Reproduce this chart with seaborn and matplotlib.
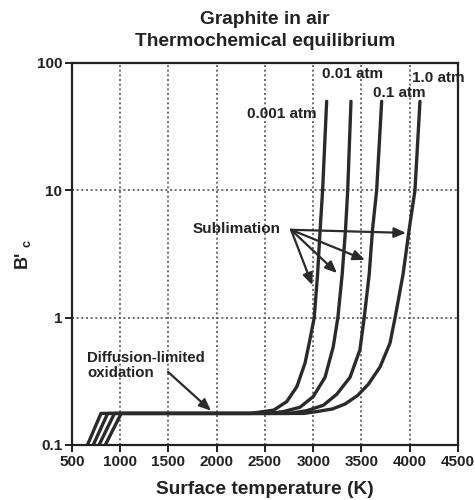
import matplotlib
matplotlib.use("Agg")
import matplotlib.pyplot as plt
import seaborn as sns
import pandas as pd
from matplotlib.ticker import FixedLocator, NullLocator, FixedFormatter

# ---- data ----
pressures = ["0.001 atm", "0.01 atm", "0.1 atm", "1.0 atm"]
temp_0001 = [660, 800, 2350, 2590, 2725, 2830, 2915, 2965, 3010, 3045, 3072, 3097, 3139]
bc_0001 = [0.1, 0.177, 0.177, 0.188, 0.219, 0.287, 0.44, 0.67, 1.0, 2.2, 5.0, 10, 50]
temp_001 = [720, 870, 2550, 2690, 2863, 3000, 3122, 3207, 3255, 3300, 3335, 3357, 3391]
bc_001 = [0.1, 0.177, 0.177, 0.183, 0.198, 0.24, 0.34, 0.59, 1.0, 2.2, 5.0, 10, 50]
temp_01 = [780, 940, 2750, 2932, 3104, 3243, 3381, 3484, 3528, 3580, 3615, 3657, 3709]
bc_01 = [0.1, 0.177, 0.177, 0.186, 0.205, 0.25, 0.34, 0.56, 1.0, 2.2, 5.0, 10, 50]
temp_10 = [845, 1010, 2900, 3036, 3200, 3330, 3460, 3571, 3692, 3795, 3848, 3931, 3995, 4054, 4106]
bc_10 = [0.1, 0.177, 0.177, 0.183, 0.192, 0.21, 0.245, 0.30, 0.41, 0.63, 1.0, 2.2, 5.0, 10, 50]

x_ticks = [500, 1000, 1500, 2000, 2500, 3000, 3500, 4000, 4500]
y_ticks = [0.1, 1, 10, 100]
y_tick_labels = ["0.1", "1", "10", "100"]

# label anchors (T, B'c)
label_pos = {"0.001 atm": (3040, 40), "0.01 atm": (3090, 82),
             "0.1 atm": (3620, 58), "1.0 atm": (4025, 76)}
label_ha = {"0.001 atm": "right", "0.01 atm": "left", "0.1 atm": "left", "1.0 atm": "left"}
subl_text_pos = (2210, 5.0)
subl_origin = (2770, 4.9)
subl_tips = [(2990, 1.8), (3246, 2.24), (3536, 2.84), (3961, 4.63)]
diff_text_pos = (655, 0.42)
diff_arrow_start = (1495, 0.375)
diff_arrow_tip = (1940, 0.186)

series = [(temp_0001, bc_0001), (temp_001, bc_001), (temp_01, bc_01), (temp_10, bc_10)]
rows = []
for p, (ts, bs) in zip(pressures, series):
    for i, (t, b) in enumerate(zip(ts, bs)):
        rows.append({"T": t, "B": b, "p": p, "order": i})
df = pd.DataFrame(rows)

sns.set_style("ticks")
plt.rcParams["font.family"] = ["Liberation Sans", "DejaVu Sans"]
plt.rcParams["font.weight"] = "bold"
plt.rcParams["mathtext.fontset"] = "custom"
plt.rcParams["mathtext.bf"] = "Liberation Sans:bold"
plt.rcParams["mathtext.rm"] = "Liberation Sans:bold"
plt.rcParams["mathtext.default"] = "bf"

ink = "#2a2a2a"
txt = "#222"
fig = plt.figure(figsize=(4.75, 5.0), dpi=100)
ax = fig.add_axes([72 / 475, 1 - 445 / 500, (458 - 72) / 475, (445 - 63) / 500])

sns.lineplot(data=df, x="T", y="B", units="p", estimator=None, sort=False,
             color=ink, lw=2.4, ax=ax, legend=False)

ax.set_yscale("log")
ax.set_xlim(500, 4500)
ax.set_ylim(0.1, 100)
ax.xaxis.set_major_locator(FixedLocator(x_ticks))
ax.yaxis.set_major_locator(FixedLocator(y_ticks))
ax.yaxis.set_major_formatter(FixedFormatter(y_tick_labels))
ax.yaxis.set_minor_locator(NullLocator())
ax.tick_params(axis="both", which="major", direction="out", length=5, width=1.4,
               labelsize=11, color=txt, labelcolor=txt, pad=2)
for lab in ax.get_xticklabels() + ax.get_yticklabels():
    lab.set_fontweight("bold")

ax.grid(True, which="major", linestyle=(0, (1.2, 1.6)), color="#555", lw=1.2)
for s in ax.spines.values():
    s.set_linewidth(1.6)
    s.set_color(txt)

ax.set_xlabel("Surface temperature (K)", fontsize=13.8, fontweight="bold", color=txt, labelpad=9)
ax.set_ylabel("B' $_{c}$", fontsize=13, fontweight="bold", color=txt, labelpad=3)

cx = 0.5 * (72 + 458) / 475
fig.text(cx, 1 - 20 / 500, "Graphite in air", ha="center", va="center",
         fontsize=13.8, fontweight="bold", color=txt)
fig.text(cx, 1 - 42 / 500, "Thermochemical equilibrium", ha="center", va="center",
         fontsize=13.8, fontweight="bold", color=txt)

for p in pressures:
    ax.text(*label_pos[p], p, ha=label_ha[p], va="center", fontsize=11, fontweight="bold", color=txt)

ax.text(*subl_text_pos, "Sublimation", ha="center", va="center", fontsize=11, fontweight="bold", color=txt)
for tip in subl_tips:
    ax.annotate("", xy=tip, xytext=subl_origin,
                arrowprops=dict(arrowstyle="-|>,head_length=0.7,head_width=0.3", color=ink, lw=1.6,
                                shrinkA=0, shrinkB=0))

ax.text(*diff_text_pos, "Diffusion-limited\noxidation", ha="left", va="center", fontsize=10.8,
        fontweight="bold", color=txt, linespacing=1.1)
ax.annotate("", xy=diff_arrow_tip, xytext=diff_arrow_start,
            arrowprops=dict(arrowstyle="-|>,head_length=0.7,head_width=0.3", color=ink, lw=1.6,
                            shrinkA=0, shrinkB=0))

fig.savefig("out.png", dpi=100)
